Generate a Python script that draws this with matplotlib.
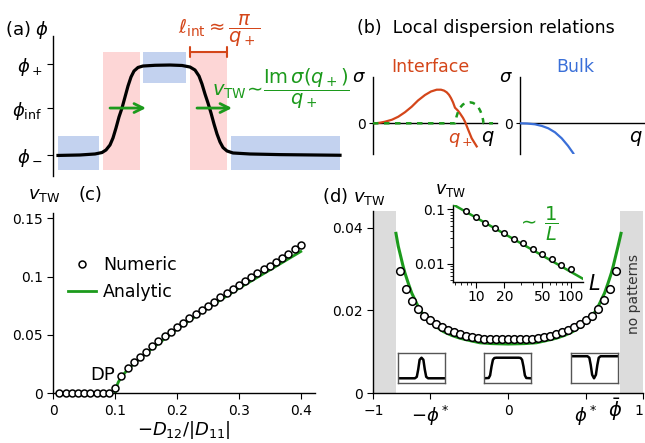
import matplotlib
matplotlib.use("Agg")
import matplotlib.pyplot as plt

plt.rcParams['font.family'] = ['DejaVu Sans']
plt.rcParams['mathtext.fontset'] = 'dejavusans'
plt.rcParams['axes.linewidth'] = 1.0

W, H = 645, 443
RED = '#d4461a'
GREEN = '#1c9a1c'
BLUE = '#3a6fd8'
PINK = '#fdd6d6'
LBLUE = '#c3d2ef'
GRAY = '#dcdcdc'

# ---- (a) schematic profile ----
prof_x = [5, 27, 42, 49, 53, 57, 60, 63, 66, 69, 72, 75, 78, 81, 85, 90, 102, 117,
          129, 137, 142, 146, 149, 152, 155, 158, 161, 164, 167, 170, 174, 180, 197, 227, 287]
prof_phi = [-0.005, 0.0, 0.011, 0.027, 0.055, 0.11, 0.187, 0.297, 0.418, 0.516, 0.637,
            0.758, 0.857, 0.923, 0.962, 0.978, 0.986, 0.989, 0.984, 0.967, 0.934, 0.868,
            0.780, 0.670, 0.571, 0.462, 0.341, 0.231, 0.143, 0.082, 0.044, 0.022, 0.011,
            0.004, -0.003]
phi_ticks = [0.0, 0.516, 1.0]
phi_labels = [r'$\phi_-$', r'$\phi_{\rm inf}$', r'$\phi_+$']
reg_x0 = [5, 50, 90, 137, 178]
reg_x1 = [46, 87, 133, 174, 287]
reg_lo = [-0.165, -0.165, 0.791, -0.165, -0.165]
reg_hi = [0.209, 1.132, 1.132, 1.132, 0.209]
reg_kind = ['bulk', 'interface', 'bulk', 'interface', 'bulk']
arrow_x0 = [57, 144]
arrow_x1 = [93, 179]

# ---- (b) dispersion relations ----
int_q = [0.02, 0.07, 0.12, 0.19, 0.253, 0.32, 0.387, 0.45, 0.52, 0.58, 0.637, 0.68,
         0.71, 0.737, 0.76, 0.78, 0.80, 0.82, 0.85, 0.87, 0.90, 0.92, 0.953, 0.987, 1.037]
int_sig = [0.0, 0.02, 0.053, 0.12, 0.22, 0.37, 0.553, 0.76, 0.943, 1.06, 1.12, 1.12,
           1.09, 1.033, 0.95, 0.84, 0.70, 0.52, 0.42, 0.33, 0.18, 0.053, -0.223, -0.5, -0.77]
im_q = [0.0, 0.82, 0.835, 0.85, 0.87, 0.90, 0.94, 0.97, 1.00, 1.03, 1.053, 1.075, 1.09,
        1.10, 1.105, 1.20]
im_sig = [0.0, 0.0, 0.22, 0.38, 0.52, 0.63, 0.69, 0.70, 0.68, 0.62, 0.54, 0.40, 0.26,
          0.12, 0.0, 0.0]
bulk_q = [0.0, 0.07, 0.15, 0.22, 0.283, 0.35, 0.417, 0.48, 0.533]
bulk_sig = [0.0, -0.007, -0.033, -0.09, -0.167, -0.30, -0.5, -0.75, -1.0]

# ---- (c) velocity vs coupling ----
c_x = [0.01, 0.02, 0.03, 0.04, 0.05, 0.06, 0.07, 0.08, 0.09, 0.10, 0.11, 0.12, 0.13,
       0.14, 0.15, 0.16, 0.17, 0.18, 0.19, 0.20, 0.21, 0.22, 0.23, 0.24, 0.25, 0.26,
       0.27, 0.28, 0.29, 0.30, 0.31, 0.32, 0.33, 0.34, 0.35, 0.36, 0.37, 0.38, 0.39, 0.40]
c_num = [0, 0, 0, 0, 0, 0, 0, 0, 0, 0.0043, 0.0149, 0.0214, 0.0269, 0.0314, 0.0357,
         0.0406, 0.0451, 0.0489, 0.0529, 0.0569, 0.0606, 0.0643, 0.0677, 0.0714, 0.0751,
         0.0786, 0.0823, 0.0857, 0.0894, 0.0929, 0.0963, 0.0997, 0.1029, 0.1063, 0.1094,
         0.1129, 0.1160, 0.1197, 0.1237, 0.1274]
c_an_x = [0.100, 0.102, 0.105, 0.11, 0.12, 0.13, 0.15, 0.175, 0.2, 0.25, 0.3, 0.35, 0.4]
c_an_y = [0.0, 0.0055, 0.0095, 0.0140, 0.0202, 0.0252, 0.0345, 0.0447, 0.0551, 0.0732,
          0.0900, 0.1057, 0.1215]

# ---- (d) velocity vs mean composition ----
d_x = [-0.8, -0.756, -0.711, -0.667, -0.622, -0.578, -0.533, -0.489, -0.444, -0.4,
       -0.356, -0.311, -0.267, -0.222, -0.178, -0.133, -0.089, -0.044, 0.0,
       0.044, 0.089, 0.133, 0.178, 0.222, 0.267, 0.311, 0.356, 0.4, 0.444, 0.489,
       0.533, 0.578, 0.622, 0.667, 0.711, 0.756, 0.8]
d_num = [0.0295, 0.0252, 0.0223, 0.0203, 0.0187, 0.0177, 0.0167, 0.0159, 0.0153, 0.0147,
         0.0143, 0.0139, 0.0136, 0.0134, 0.0132, 0.0131, 0.0130, 0.0130, 0.0130,
         0.0130, 0.0130, 0.0131, 0.0132, 0.0134, 0.0136, 0.0139, 0.0143, 0.0147, 0.0153,
         0.0159, 0.0167, 0.0177, 0.0187, 0.0204, 0.0224, 0.0252, 0.0296]
d_an_x = [-0.832, -0.815, -0.80, -0.78, -0.765, -0.74, -0.715, -0.68, -0.654, -0.62,
          -0.58, -0.53, -0.48, -0.42, -0.357, -0.28, -0.209, -0.12, 0.0,
          0.12, 0.209, 0.28, 0.357, 0.42, 0.48, 0.53, 0.58, 0.62, 0.654, 0.68, 0.715,
          0.74, 0.765, 0.78, 0.80, 0.815, 0.837]
d_an_y = [0.0386, 0.0355, 0.0335, 0.0308, 0.0290, 0.0265, 0.0242, 0.0218, 0.0201, 0.0186,
          0.0173, 0.0160, 0.0149, 0.0140, 0.0133, 0.0127, 0.0122, 0.0120, 0.0119,
          0.0120, 0.0122, 0.0127, 0.0133, 0.0140, 0.0149, 0.0160, 0.0173, 0.0186, 0.0201,
          0.0218, 0.0242, 0.0265, 0.0290, 0.0308, 0.0335, 0.0355, 0.0386]
phi_star = 0.577
no_pattern_edge = 0.833

# inset: size scaling
L_vals = [7.94, 10.0, 12.6, 15.8, 20.0, 25.1, 31.6, 39.8, 50.1, 63.1, 79.4, 100.0]
L_num = [0.092, 0.072, 0.0567, 0.045, 0.0365, 0.029, 0.0238, 0.019, 0.0153, 0.0122,
         0.0097, 0.0079]
L_fit = [6.0, 133.0]
L_fit_v = [0.118, 0.00535]

# mini profiles
mini_x = [[0, 0.36, 0.40, 0.43, 0.46, 0.5, 0.54, 0.57, 0.60, 0.64, 1],
          [0, 0.10, 0.13, 0.16, 0.19, 0.22, 0.26, 0.74, 0.78, 0.81, 0.84, 0.87, 0.90, 1],
          [0, 0.35, 0.39, 0.42, 0.45, 0.49, 0.53, 0.56, 0.59, 0.63, 1]]
mini_y = [[0.15, 0.15, 0.2, 0.45, 0.78, 0.85, 0.78, 0.45, 0.2, 0.15, 0.15],
          [0.15, 0.16, 0.25, 0.55, 0.78, 0.84, 0.85, 0.85, 0.84, 0.78, 0.55, 0.25, 0.16, 0.15],
          [0.90, 0.90, 0.85, 0.60, 0.27, 0.15, 0.27, 0.60, 0.85, 0.90, 0.90]]
mini_boxes = [(398, 445), (484, 531), (571, 618)]


fig = plt.figure(figsize=(W / 100, H / 100), dpi=100)


def px_axes(x0, y0, x1, y1):
    return fig.add_axes([x0 / W, 1 - y1 / H, (x1 - x0) / W, (y1 - y0) / H])


def ftext(x, y, s, **kw):
    fig.text(x / W, 1 - y / H, s, **kw)


# ================= (a) =================
ax = px_axes(53, 36, 345, 176)
ax.set_xlim(0, 292)
ax.set_ylim(-0.231, 1.308)
for k in ['top', 'right', 'bottom']:
    ax.spines[k].set_visible(False)
ax.set_xticks([])
ax.set_yticks(phi_ticks)
ax.set_yticklabels(phi_labels, fontsize=13)
ax.tick_params(axis='y', length=4)
for x0, x1, lo, hi, kind in zip(reg_x0, reg_x1, reg_lo, reg_hi, reg_kind):
    ax.bar(x0, hi - lo, bottom=lo, width=x1 - x0, align='edge',
           color=PINK if kind == 'interface' else LBLUE, lw=0, zorder=1)
ax.plot(prof_x, prof_phi, color='black', lw=2.3, zorder=3)
for a0, a1 in zip(arrow_x0, arrow_x1):
    ax.annotate('', xy=(a1, phi_ticks[1]), xytext=(a0, phi_ticks[1]), zorder=4,
                arrowprops=dict(arrowstyle='->', color=GREEN, lw=2, mutation_scale=16,
                                shrinkA=0, shrinkB=0))
ax.annotate('', xy=(reg_x1[3], reg_hi[3]), xytext=(reg_x0[3], reg_hi[3]),
            annotation_clip=False,
            arrowprops=dict(arrowstyle='|-|,widthA=0.35,widthB=0.35', color=RED, lw=1.5,
                            mutation_scale=10, shrinkA=0, shrinkB=0))
ftext(5, 30, r'(a) $\phi$', fontsize=13, va='center')
ftext(219, 31, r'$\ell_{\rm int}\approx\dfrac{\pi}{q_+}$', fontsize=14, color=RED,
      ha='center', va='center')
ftext(281, 89, r'$v_{\rm TW}\!\sim\!\dfrac{{\rm Im}\,\sigma(q_+)}{q_+}$', fontsize=14,
      color=GREEN, ha='center', va='center')

# ================= (b) =================
ftext(357, 28, '(b)  Local dispersion relations', fontsize=12.5, va='center')
for (x0, x1, qmax, title, tcol, tx) in [(373, 497, 1.24, 'Interface', RED, 430),
                                         (520, 645, 1.25, 'Bulk', BLUE, 575)]:
    bx = px_axes(x0, 77, x1, 154)
    bx.set_xlim(0, qmax)
    bx.set_ylim(-1.023, 1.543)
    bx.spines['top'].set_visible(False)
    bx.spines['right'].set_visible(False)
    bx.spines['bottom'].set_position(('data', 0))
    bx.set_xticks([])
    bx.set_yticks([0])
    bx.set_yticklabels(['0'], fontsize=10)
    bx.tick_params(axis='y', length=3, pad=2)
    bx.patch.set_alpha(0)
    bx.text(-0.07, 1.54, r'$\sigma$', fontsize=13, ha='right', va='center')
    bx.text(qmax - 0.02, -0.2, r'$q$', fontsize=14, ha='right', va='top')
    if title == 'Interface':
        bx.plot(int_q, int_sig, color=RED, lw=1.6, zorder=3)
        bx.plot(im_q, im_sig, color=GREEN, lw=1.8, ls=(0, (2.2, 2.2)), zorder=4)
        bx.text(0.88, -0.55, r'$q_+$', fontsize=13, color=RED, ha='center', va='center')
    else:
        bx.plot(bulk_q, bulk_sig, color=BLUE, lw=1.6, zorder=3)
    ftext(tx, 67, title, fontsize=12.5, color=tcol, ha='center', va='center')

# ================= (c) =================
cx = px_axes(53.3, 213, 315, 393.3)
cx.set_xlim(0, 0.423)
cx.set_ylim(0, 0.1545)
cx.spines['top'].set_visible(False)
cx.spines['right'].set_visible(False)
cx.set_xticks([0, 0.1, 0.2, 0.3, 0.4])
cx.set_xticklabels(['0', '0.1', '0.2', '0.3', '0.4'], fontsize=10)
cx.set_yticks([0, 0.05, 0.1, 0.15])
cx.set_yticklabels(['0', '0.05', '0.1', '0.15'], fontsize=10)
cx.tick_params(length=4)
cx.plot(c_an_x, c_an_y, color=GREEN, lw=2, label='Analytic', zorder=3)
cx.plot(c_x, c_num, 'o', ms=5, mfc='white', mec='black', mew=1.1, label='Numeric',
        zorder=4, clip_on=False)
h, l = cx.get_legend_handles_labels()
cx.legend(h[::-1], l[::-1], loc='upper left', bbox_to_anchor=(0.03, 0.80), frameon=False,
          fontsize=12.5, handlelength=1.6, handletextpad=0.4, labelspacing=0.5,
          borderaxespad=0)
cx.text(0.1, 0.008, 'DP', fontsize=13, ha='right', va='bottom')
ftext(28, 195, r'$v_{\rm TW}$', fontsize=13, va='center')
ftext(78, 195, '(c)', fontsize=13, va='center')
cx.set_xlabel(r'$-D_{12}/|D_{11}|$', fontsize=13, labelpad=1)

# ================= (d) =================
dx = px_axes(373.3, 211, 643, 393.3)
dx.set_xlim(-1, 1)
dx.set_ylim(0, 0.044)
dx.spines['top'].set_visible(False)
dx.spines['right'].set_visible(False)
dx.axvspan(-1, -no_pattern_edge, color=GRAY, lw=0, zorder=0)
dx.axvspan(no_pattern_edge, 1, color=GRAY, lw=0, zorder=0)
dx.set_xticks([-1, -phi_star, 0, phi_star, 1])
dx.set_xticklabels(['\u22121', r'$-\phi^*$', '0', r'$\phi^*$', '1'])
for lab, fs in zip(dx.get_xticklabels(), [10, 13, 10, 13, 10]):
    lab.set_fontsize(fs)
dx.get_xticklabels()[-1].set_horizontalalignment('right')
dx.set_yticks([0, 0.02, 0.04])
dx.set_yticklabels(['0', '0.02', '0.04'], fontsize=10)
dx.tick_params(length=4)
dx.plot(d_an_x, d_an_y, color=GREEN, lw=2.2, zorder=3)
dx.plot(d_x, d_num, 'o', ms=5.5, mfc='white', mec='black', mew=1.1, zorder=4)
dx.text(0.93, 0.024, 'no patterns', rotation=90, fontsize=10, color='#333333',
        ha='center', va='center')
ftext(322, 196, r'(d) $v_{\rm TW}$', fontsize=13, va='center')
ftext(615, 410, r'$\bar\phi$', fontsize=14, ha='center', va='center')

# inset
ix = px_axes(453.3, 205, 582.7, 281.7)
ix.set_xscale('log')
ix.set_yscale('log')
ix.set_xlim(5.8, 133)
ix.set_ylim(0.0047, 0.12)
ix.spines['top'].set_visible(False)
ix.spines['right'].set_visible(False)
ix.patch.set_alpha(0)
ix.plot(L_fit, L_fit_v, color=GREEN, lw=1.8, zorder=3)
ix.plot(L_vals, L_num, 'o', ms=4, mfc='white', mec='black', mew=1.1, zorder=4)
ix.set_xticks([10, 20, 50, 100])
ix.set_xticklabels(['10', '20', '50', '100'], fontsize=10)
ix.set_yticks([0.01, 0.1])
ix.set_yticklabels(['0.01', '0.1'], fontsize=10)
ix.tick_params(which='major', length=4, pad=2)
ix.tick_params(which='minor', length=2)
ftext(435, 190, r'$v_{\rm TW}$', fontsize=12.5, va='center')
ftext(594, 284, r'$L$', fontsize=15, ha='center', va='center')
ftext(538, 224, r'$\sim\,\dfrac{1}{L}$', fontsize=14, color=GREEN, ha='center',
      va='center')

# mini profiles
for (x0, x1), mx, my in zip(mini_boxes, mini_x, mini_y):
    mx_ax = px_axes(x0, 353.3, x1, 382.7)
    mx_ax.plot(mx, my, color='black', lw=1.8)
    mx_ax.set_xlim(0, 1)
    mx_ax.set_ylim(0, 1)
    mx_ax.set_xticks([])
    mx_ax.set_yticks([])
    for s in mx_ax.spines.values():
        s.set_color('#555555')
        s.set_linewidth(1.0)

fig.savefig('out.png', dpi=100)
